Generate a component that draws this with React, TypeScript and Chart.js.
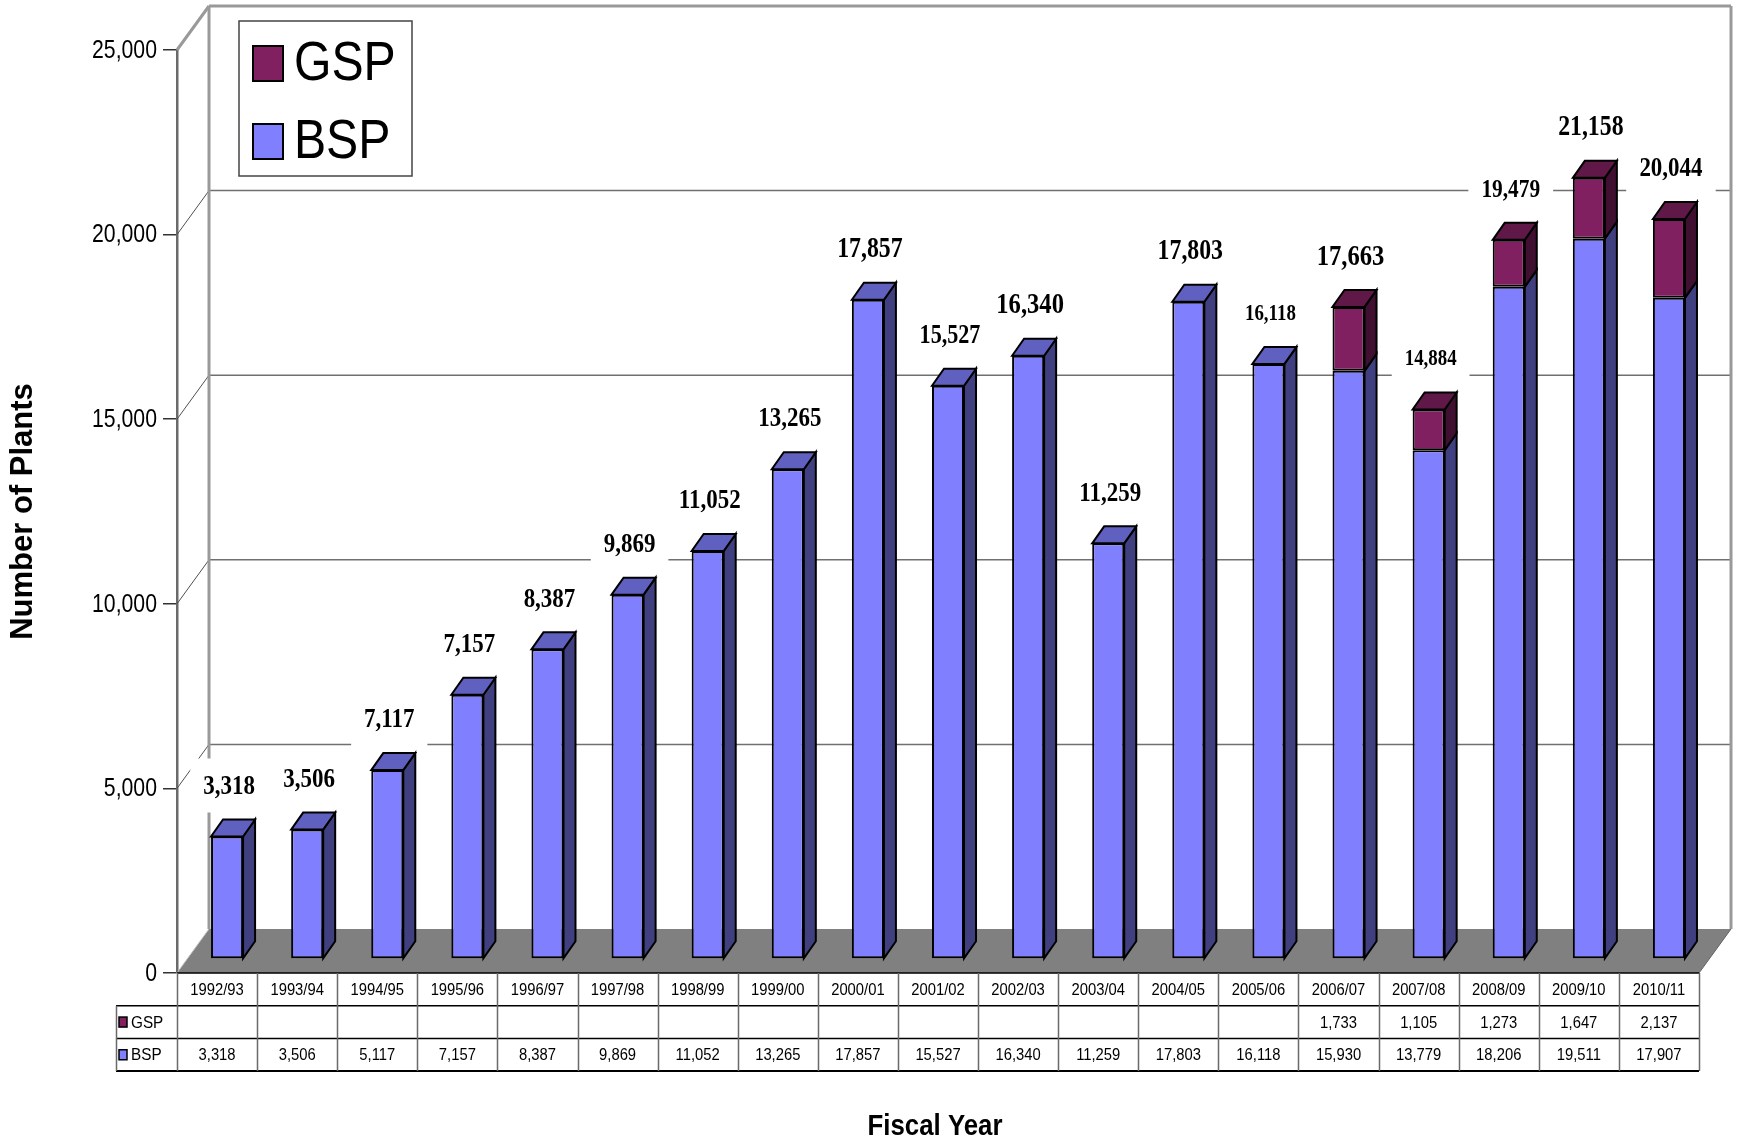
import React, { useEffect, useRef } from "react";
import { Chart, registerables } from "chart.js";

Chart.register(...registerables);

// ---------- data ----------
const categories = [
  "1992/93", "1993/94", "1994/95", "1995/96", "1996/97", "1997/98", "1998/99",
  "1999/00", "2000/01", "2001/02", "2002/03", "2003/04", "2004/05", "2005/06",
  "2006/07", "2007/08", "2008/09", "2009/10", "2010/11",
];
const bspValues = [
  3318, 3506, 5117, 7157, 8387, 9869, 11052, 13265, 17857, 15527, 16340, 11259,
  17803, 16118, 15930, 13779, 18206, 19511, 17907,
];
const gspValues: (number | null)[] = [
  null, null, null, null, null, null, null, null, null, null, null, null, null,
  null, 1733, 1105, 1273, 1647, 2137,
];
// labels printed above the bars, as they read in the picture
const totalLabels = [
  "3,318", "3,506", "7,117", "7,157", "8,387", "9,869", "11,052", "13,265",
  "17,857", "15,527", "16,340", "11,259", "17,803", "16,118", "17,663",
  "14,884", "19,479", "21,158", "20,044",
];
const seriesNames = ["GSP", "BSP"];
const yMin = 0;
const yMax = 25000;
const yStep = 5000;
const yTitle = "Number of Plants";
const xTitle = "Fiscal Year";

// ---------- style ----------
// font size (px) of each label above the bars
const labelFontSizes = [28, 28, 28, 28, 28, 28, 28, 28, 29, 27, 30, 28, 29, 23, 30, 23, 26, 29, 28];

const SANS = '"Liberation Sans", Arial, sans-serif';
const SERIF = '"Liberation Serif", "Times New Roman", serif';
const CONDENSE = 0.85;

const BSP_FRONT = "#8080FF";
const BSP_SIDE = "#404080";
const BSP_TOP = "#6060C0";
const GSP_FRONT = "#802060";
const GSP_SIDE = "#401030";
const GSP_TOP = "#601848";

const W = 1754;
const H = 1141;
const WALL_DX = 32; // depth of the walls / floor
const WALL_DY = 44;
const SHIFT_X = 10; // bars sit mid-depth
const SHIFT_Y = 14;
const BAR_DX = 12; // depth of each bar
const BAR_DY = 17;

const fmt = (v: number) => v.toLocaleString("en-US");

function text(
  ctx: CanvasRenderingContext2D, s: string, x: number, y: number, font: string,
  align: CanvasTextAlign = "center", sx = CONDENSE,
) {
  ctx.save();
  ctx.font = font;
  ctx.textAlign = align;
  ctx.textBaseline = "middle";
  ctx.fillStyle = "#000";
  ctx.translate(x, y);
  ctx.scale(sx, 1);
  ctx.fillText(s, 0, 0);
  ctx.restore();
}

function poly(ctx: CanvasRenderingContext2D, pts: number[][], fill: string) {
  ctx.beginPath();
  ctx.moveTo(pts[0][0], pts[0][1]);
  for (let i = 1; i < pts.length; i++) ctx.lineTo(pts[i][0], pts[i][1]);
  ctx.closePath();
  ctx.fillStyle = fill;
  ctx.fill();
  ctx.lineWidth = 2;
  ctx.strokeStyle = "#000";
  ctx.lineJoin = "miter";
  ctx.stroke();
}

const threeDPlugin = {
  id: "threeD",
  beforeDatasetsDraw(chart: any) {
    const { ctx, chartArea: a, scales } = chart;
    const y = scales.y;
    const y0 = y.getPixelForValue(yMin);
    const yTop = y.getPixelForValue(yMax);
    ctx.save();
    // back wall grid lines + side wall diagonals
    for (let v = yMin + yStep; v <= yMax; v += yStep) {
      const py = y.getPixelForValue(v);
      const isTop = v === yMax;
      ctx.beginPath();
      ctx.moveTo(a.left + WALL_DX, py - WALL_DY);
      ctx.lineTo(a.right + WALL_DX, py - WALL_DY);
      ctx.strokeStyle = isTop ? "#999999" : "#707070";
      ctx.lineWidth = isTop ? 3 : 1.5;
      ctx.stroke();
      ctx.beginPath();
      ctx.moveTo(a.left, py);
      ctx.lineTo(a.left + WALL_DX, py - WALL_DY);
      ctx.strokeStyle = isTop ? "#999999" : "#505050";
      ctx.lineWidth = isTop ? 3 : 1;
      ctx.stroke();
    }
    // back wall verticals
    ctx.strokeStyle = "#999999";
    ctx.lineWidth = 3;
    ctx.beginPath();
    ctx.moveTo(a.left + WALL_DX, yTop - WALL_DY);
    ctx.lineTo(a.left + WALL_DX, y0 - WALL_DY);
    ctx.moveTo(a.right + WALL_DX, yTop - WALL_DY);
    ctx.lineTo(a.right + WALL_DX, y0 - WALL_DY);
    ctx.stroke();
    // floor
    ctx.beginPath();
    ctx.moveTo(a.left, y0);
    ctx.lineTo(a.left + WALL_DX, y0 - WALL_DY);
    ctx.lineTo(a.right + WALL_DX, y0 - WALL_DY);
    ctx.lineTo(a.right, y0);
    ctx.closePath();
    ctx.fillStyle = "#808080";
    ctx.fill();
    ctx.beginPath();
    ctx.moveTo(a.left, y0);
    ctx.lineTo(a.left + WALL_DX, y0 - WALL_DY);
    ctx.strokeStyle = "#bbbbbb";
    ctx.lineWidth = 1;
    ctx.stroke();
    ctx.beginPath();
    ctx.moveTo(a.right, y0);
    ctx.lineTo(a.right + WALL_DX, y0 - WALL_DY);
    ctx.strokeStyle = "#606060";
    ctx.stroke();
    ctx.restore();

    // bars are drawn in a plane shifted into the depth
    ctx.save();
    ctx.translate(SHIFT_X, -SHIFT_Y);
  },
  afterDatasetsDraw(chart: any) {
    const { ctx } = chart;
    const bspMeta = chart.getDatasetMeta(0);
    const gspMeta = chart.getDatasetMeta(1);
    const n = categories.length;
    for (let j = 0; j < n; j++) {
      const hasG = gspValues[j] !== null && gspValues[j] !== undefined;
      const segs: any[] = [{ el: bspMeta.data[j], side: BSP_SIDE, top: BSP_TOP }];
      if (hasG) segs.push({ el: gspMeta.data[j], side: GSP_SIDE, top: GSP_TOP });
      segs.forEach((s, k) => {
        const { x, y, base, width } = s.el.getProps(["x", "y", "base", "width"], true);
        const l = x - width / 2;
        const r = x + width / 2;
        poly(ctx, [[r, y], [r + BAR_DX, y - BAR_DY], [r + BAR_DX, base - BAR_DY], [r, base]], s.side);
        if (k === segs.length - 1) {
          poly(ctx, [[l, y], [l + BAR_DX, y - BAR_DY], [r + BAR_DX, y - BAR_DY], [r, y]], s.top);
        }
      });
    }
    ctx.restore();

    // value labels with white boxes
    const spots: any[] = [];
    for (let j = 0; j < n; j++) {
      const hasG = gspValues[j] !== null && gspValues[j] !== undefined;
      const el = hasG ? gspMeta.data[j] : bspMeta.data[j];
      const { x, y } = el.getProps(["x", "y"], true);
      const font = `bold ${labelFontSizes[j]}px ${SERIF}`;
      ctx.save();
      ctx.font = font;
      const tw = ctx.measureText(totalLabels[j]).width * CONDENSE;
      ctx.restore();
      spots.push({ cx: x + SHIFT_X + 2, cy: y - SHIFT_Y - BAR_DY - 34, tw, font, s: totalLabels[j] });
    }
    ctx.save();
    ctx.fillStyle = "#ffffff";
    spots.forEach((p) => ctx.fillRect(p.cx - p.tw / 2 - 12, p.cy - 27, p.tw + 24, 54));
    ctx.restore();
    spots.forEach((p) => text(ctx, p.s, p.cx, p.cy + 1, p.font, "center", 0.82));
  },
  afterDraw(chart: any) {
    const { ctx, chartArea: a, scales } = chart;
    const x = scales.x;
    const y = scales.y;
    const y0 = y.getPixelForValue(yMin);
    const n = categories.length;
    const cw = (a.right - a.left) / n;
    const rowH = 32.7;
    const tableLeft = 116;
    const r1 = y0, r2 = y0 + rowH, r3 = y0 + 2 * rowH, r4 = y0 + 3 * rowH;

    // y tick labels (condensed, as in the picture)
    y.ticks.forEach((t: any) => {
      text(ctx, fmt(t.value), a.left - 20, y.getPixelForValue(t.value) + 1, `25px ${SANS}`, "right", CONDENSE);
    });

    ctx.save();
    // table lines
    ctx.strokeStyle = "#000";
    ctx.lineWidth = 1.5;
    ctx.beginPath();
    ctx.moveTo(a.left, r1); ctx.lineTo(a.right, r1);
    ctx.moveTo(tableLeft, r2); ctx.lineTo(a.right, r2);
    ctx.moveTo(tableLeft, r3); ctx.lineTo(a.right, r3);
    ctx.stroke();
    ctx.lineWidth = 2;
    ctx.beginPath();
    ctx.moveTo(tableLeft, r4); ctx.lineTo(a.right, r4);
    ctx.stroke();
    ctx.strokeStyle = "#6a6a6a";
    ctx.lineWidth = 1.5;
    ctx.beginPath();
    for (let k = 0; k <= n; k++) {
      const px = Math.round(a.left + k * cw) + 0.5;
      ctx.moveTo(px, r1); ctx.lineTo(px, r4);
    }
    ctx.moveTo(tableLeft + 0.5, r2); ctx.lineTo(tableLeft + 0.5, r4);
    ctx.stroke();
    ctx.restore();

    const tf = `17px ${SANS}`;
    for (let j = 0; j < n; j++) {
      const cx = x.getPixelForValue(j);
      text(ctx, categories[j], cx, (r1 + r2) / 2 + 1, tf, "center", 0.87);
      const g = gspValues[j];
      if (g !== null && g !== undefined) text(ctx, fmt(g), cx, (r2 + r3) / 2 + 1, tf, "center", 0.87);
      text(ctx, fmt(bspValues[j]), cx, (r3 + r4) / 2 + 1, tf, "center", 0.87);
    }
    // row headers
    const rowSeries = [
      { name: seriesNames[0], color: GSP_FRONT, cy: (r2 + r3) / 2 },
      { name: seriesNames[1], color: BSP_FRONT, cy: (r3 + r4) / 2 },
    ];
    rowSeries.forEach((r) => {
      ctx.save();
      ctx.fillStyle = r.color;
      ctx.fillRect(119, r.cy - 5, 8, 10);
      ctx.strokeStyle = "#000";
      ctx.lineWidth = 1.5;
      ctx.strokeRect(119, r.cy - 5, 8, 10);
      ctx.restore();
      text(ctx, r.name, 131, r.cy + 1, tf, "left", 0.9);
    });

    // x axis title
    text(ctx, xTitle, (a.left + a.right) / 2 - 3, 1127, `bold 30px ${SANS}`, "center", 0.86);

    // legend
    ctx.save();
    ctx.fillStyle = "#fff";
    ctx.fillRect(239, 21, 173, 155);
    ctx.strokeStyle = "#444";
    ctx.lineWidth = 1.5;
    ctx.strokeRect(239, 21, 173, 155);
    ctx.restore();
    const leg = [
      { name: seriesNames[0], color: GSP_FRONT, top: 46 },
      { name: seriesNames[1], color: BSP_FRONT, top: 124 },
    ];
    leg.forEach((l) => {
      ctx.save();
      ctx.fillStyle = l.color;
      ctx.fillRect(253, l.top, 30, 35);
      ctx.strokeStyle = "#000";
      ctx.lineWidth = 2;
      ctx.strokeRect(253, l.top, 30, 35);
      ctx.restore();
      text(ctx, l.name, 294, l.top + 19, `56px ${SANS}`, "left", 0.86);
    });
  },
};

export default function App() {
  const ref = useRef<HTMLCanvasElement | null>(null);
  useEffect(() => {
    if (!ref.current) return;
    const chart = new Chart(ref.current, {
      type: "bar",
      data: {
        labels: categories,
        datasets: [
          {
            label: seriesNames[1],
            data: bspValues,
            backgroundColor: BSP_FRONT,
            borderColor: "#000",
            borderWidth: 2,
            borderSkipped: false,
            clip: false as any,
          },
          {
            label: seriesNames[0],
            data: gspValues as any,
            backgroundColor: GSP_FRONT,
            borderColor: "#000",
            borderWidth: 2,
            borderSkipped: false,
            clip: false as any,
          },
        ],
      },
      options: {
        responsive: false,
        animation: false,
        devicePixelRatio: 1,
        layout: { padding: { left: 0, top: 50, right: W - 1699, bottom: H - 973 } },
        datasets: { bar: { barPercentage: 0.4, categoryPercentage: 1 } },
        plugins: { legend: { display: false }, tooltip: { enabled: false }, title: { display: false } },
        scales: {
          x: { type: "category", display: false, stacked: true, offset: true },
          y: {
            type: "linear",
            stacked: true,
            min: yMin,
            max: yMax,
            afterFit: (s: any) => { s.width = 177; },
            ticks: {
              display: false,
              stepSize: yStep,
              font: { family: SANS, size: 25 },
            },
            grid: { drawOnChartArea: false, drawTicks: true, tickLength: 14, color: "#333", lineWidth: 1.5 },
            border: { display: true, color: "#6a6a6a", width: 2.5 },
            title: {
              display: true,
              text: yTitle,
              color: "#000",
              font: { family: SANS, size: 31, weight: "bold" },
              padding: { top: 5, bottom: 0 },
            },
          },
        },
      },
      plugins: [threeDPlugin],
    });
    return () => chart.destroy();
  }, []);
  return (
    <canvas
      ref={ref}
      width={W}
      height={H}
      style={{ position: "absolute", left: 0, top: 0, width: W, height: H, display: "block" }}
    />
  );
}
